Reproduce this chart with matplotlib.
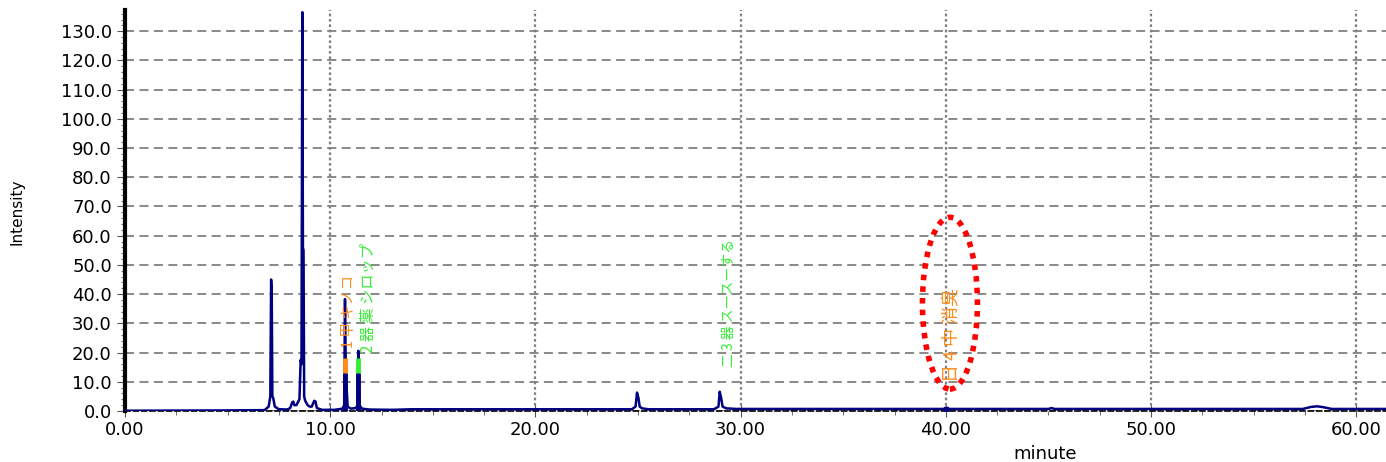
import matplotlib
matplotlib.use("Agg")
import matplotlib.pyplot as plt
from matplotlib.patches import Ellipse
from matplotlib.ticker import MultipleLocator, FormatStrFormatter

# chromatogram trace (minute, intensity)
time = [0.0, 5.0, 6.8, 7.0, 7.08, 7.12, 7.15, 7.18, 7.22, 7.3, 7.5, 7.9,
        8.05, 8.15, 8.2, 8.25, 8.35, 8.5, 8.56, 8.6, 8.64, 8.67, 8.7, 8.73,
        8.78, 8.9, 9.0, 9.1, 9.22, 9.28, 9.35, 9.6, 10.2, 10.6, 10.68, 10.72,
        10.76, 10.85, 11.0, 11.25, 11.33, 11.37, 11.42, 11.55, 11.9, 13.0,
        14.0, 20.0, 24.7, 24.88, 24.95, 25.02, 25.08, 25.2, 25.5, 28.7, 28.92,
        28.98, 29.05, 29.12, 29.3, 29.8, 35.0, 39.9, 40.0, 40.1, 45.0, 45.15,
        45.3, 50.0, 57.4, 57.8, 58.1, 58.4, 58.8, 61.5]
intensity = [0.1, 0.2, 0.3, 1.5, 5.0, 45.0, 40.3, 5.0, 4.5, 1.5, 0.6, 0.5,
             1.0, 3.0, 3.2, 2.0, 2.0, 4.0, 17.5, 16.0, 136.5, 55.8, 55.0, 5.0,
             3.5, 2.0, 1.5, 1.5, 3.5, 3.3, 1.0, 0.4, 0.4, 0.8, 2.0, 38.3,
             13.0, 1.5, 0.8, 1.0, 2.0, 20.6, 2.0, 0.8, 0.5, 0.4,
             0.6, 0.6, 0.6, 1.5, 6.3, 4.5, 1.5, 0.9, 0.6, 0.6, 1.5,
             6.6, 4.5, 1.5, 0.9, 0.7, 0.7, 0.7, 1.0, 0.7, 0.7, 1.0,
             0.7, 0.7, 0.7, 1.4, 1.6, 1.3, 0.7, 0.7]

# integrated peaks and their marker band
peak_times = [10.72, 11.37]
peak_colors = ["#ff8c1a", "#33ee33"]
band_low, band_high = 13.0, 18.0

# peak labels
label_text = ["1 甲 キノコ", "2 器 薬 シロップ", "二 3 器 スースーする", "日 4 中 消臭"]
label_x = [10.9, 11.85, 29.45, 40.3]
label_y = [21.5, 19.8, 15.0, 10.0]
label_size = [10.5, 11, 10, 13]
label_colors = ["#ff8c1a", "#33ee33", "#33ee33", "#ff8c1a"]

fig = plt.figure(figsize=(13.86, 4.62), dpi=100)
ax = fig.add_axes([0.0902, 0.1104, 0.9098, 0.8676])

ax.plot(time, intensity, color="#000080", linewidth=1.8, zorder=3)

for t, c in zip(peak_times, peak_colors):
    ax.vlines(t, 0, band_low, color="#000080", linewidth=3.5, zorder=4)
    ax.vlines(t, band_low, band_high, color=c, linewidth=3.5, zorder=4)

ax.plot([40.0], [0.6], marker="s", markersize=3, color="#000080", zorder=4)

for txt, x, y, s, c in zip(label_text, label_x, label_y, label_size, label_colors):
    ax.text(x, y, txt, rotation=90, ha="center", va="bottom", color=c,
            fontsize=s, family=["Noto Sans CJK JP", "DejaVu Sans"], zorder=5)

ax.add_patch(Ellipse((40.2, 36.9), 2.68, 58.8, fill=False, edgecolor="red",
                     linewidth=4, linestyle=(0, (1, 1.1)), zorder=6))

ax.set_xlim(0, 61.45)
ax.set_ylim(0, 137.2)

ax.xaxis.set_major_locator(MultipleLocator(10))
ax.xaxis.set_minor_locator(MultipleLocator(2.5))
ax.yaxis.set_major_locator(MultipleLocator(10))
ax.yaxis.set_minor_locator(MultipleLocator(2))
ax.xaxis.set_major_formatter(FormatStrFormatter("%.2f"))
ax.yaxis.set_major_formatter(FormatStrFormatter("%.1f"))

ax.grid(True, axis="y", which="major", color="#808080", linestyle=(0, (5, 3)), linewidth=1.3)
ax.grid(True, axis="x", which="major", color="#808080", linestyle=(0, (1.2, 1.2)), linewidth=1.6)
ax.set_axisbelow(True)

for s in ["top", "right"]:
    ax.spines[s].set_visible(False)
ax.spines["left"].set_linewidth(3)
ax.spines["left"].set_color("black")
ax.spines["bottom"].set_linestyle((0, (3, 2)))
ax.spines["bottom"].set_linewidth(1.2)
ax.spines["bottom"].set_color("black")

ax.tick_params(axis="both", which="major", labelsize=13, length=6, color="#555555")
ax.tick_params(axis="x", which="major", direction="inout", length=8)
ax.tick_params(axis="both", which="minor", length=3, color="#555555")

ax.set_xlabel("minute", fontsize=13)
ax.xaxis.set_label_coords(0.73, -0.085)
ax.set_ylabel("Intensity", fontsize=11)
ax.yaxis.set_label_coords(-0.08, 0.496)

fig.savefig("out.png", dpi=100)
